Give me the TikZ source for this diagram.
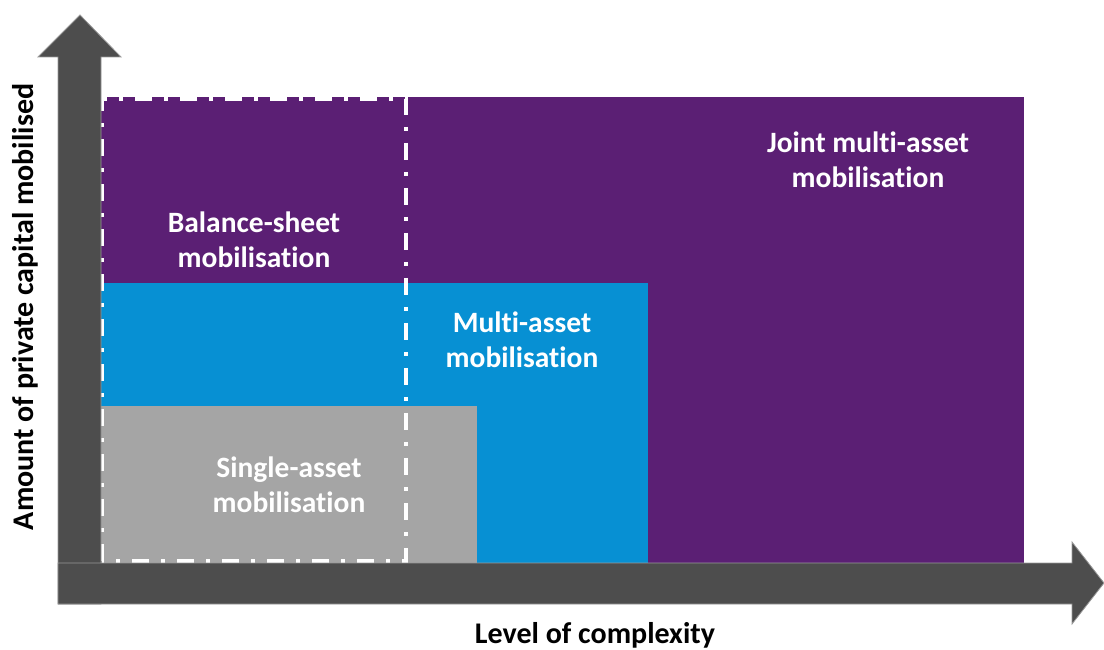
\documentclass[tikz,border=0pt]{standalone}
\usepackage{fontspec}
\setmainfont[Ligatures={NoCommon}]{Carlito}
\definecolor{axisgrey}{HTML}{4D4D4D}
\definecolor{jointpurple}{HTML}{5B1F74}
\definecolor{multiblue}{HTML}{0790D3}
\definecolor{singlegrey}{HTML}{A5A5A5}
\begin{document}
\begin{tikzpicture}[x=1pt,y=1pt]
\tikzstyle{axisarrow}=[fill=axisgrey,draw=black!40,line width=0.8pt]
\tikzstyle{area}=[draw=none]
\tikzstyle{areaLabel}=[text=white,font=\bfseries\fontsize{29.5}{35}\selectfont,align=center]
\tikzstyle{axisLabel}=[text=black,font=\bfseries\fontsize{30}{35}\selectfont]

\useasboundingbox (0,0) rectangle (1104,649);

% nested areas
\fill[area,jointpurple] (101,86) rectangle (1024,552);
\fill[area,multiblue] (101,86) rectangle (648,366);
\fill[area,singlegrey] (101,86) rectangle (477,243);

% balance-sheet frame
\draw[white,line width=4pt,dash pattern=on 17pt off 12pt on 4pt off 12pt] (102,88) rectangle (406,550);

% axes
\draw[axisarrow] (58,45) -- (101,45) -- (101,592) -- (121,592) -- (80,634) -- (38,592) -- (58,592) -- cycle;
\draw[axisarrow] (58,45) -- (1072,45) -- (1072,25) -- (1104,66) -- (1072,107) -- (1072,86) -- (58,86) -- cycle;

\node[areaLabel] (joint) at (868,489) {Joint multi-asset\\mobilisation};
\node[areaLabel] (balance) at (254,409) {Balance-sheet\\mobilisation};
\node[areaLabel] (multi) at (522,309) {Multi-asset\\mobilisation};
\node[areaLabel] (single) at (289,164) {Single-asset\\mobilisation};

\node[axisLabel] (xlabel) at (595,14) {Level of complexity};
\node[axisLabel,rotate=90] (ylabel) at (25,342) {Amount of private capital mobilised};

\end{tikzpicture}
\end{document}
